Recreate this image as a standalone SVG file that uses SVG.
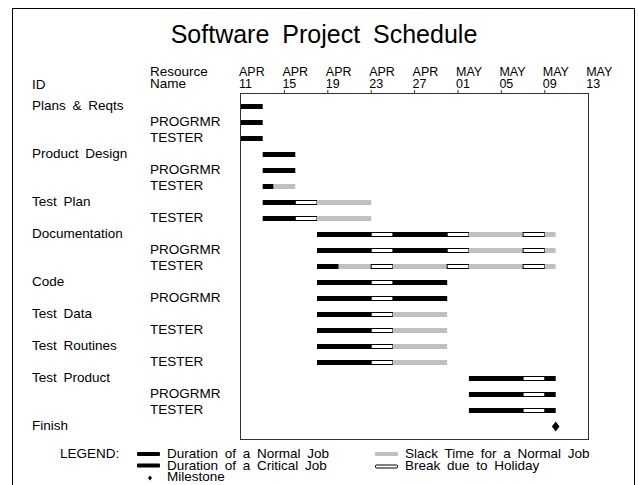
<svg xmlns="http://www.w3.org/2000/svg" width="638" height="485" viewBox="0 0 638 485">
  <style>
    .t { font-family: "Liberation Sans", Arial, sans-serif; font-size: 13.5px; fill: #000; }
    .ax { font-family: "Liberation Sans", Arial, sans-serif; font-size: 12.5px; fill: #000; }
    .ws { word-spacing: 3px; }
    .title { font-family: "Liberation Sans", Arial, sans-serif; font-size: 25px; word-spacing: 6px; fill: #000; }
    .crit { fill: #000; }
    .slack { fill: #c0c0c0; }
    .hol { fill: #fff; stroke: #000; stroke-width: 1; }
    .frame { fill: none; stroke: #000; stroke-width: 1; }
    .box { fill: none; stroke: #333; stroke-width: 1; }
  </style>

  <rect width="638" height="485" fill="#fff"/>
  <rect class="frame" x="12.5" y="8.5" width="622" height="490"/>

  <text class="title" x="324" y="43" text-anchor="middle">Software Project Schedule</text>

  <!-- column headings -->
  <text class="t" x="32" y="89">ID</text>
  <text class="t" x="150" y="76">Resource</text>
  <text class="t" x="150" y="88">Name</text>

  <!-- time axis: day d maps to x = 241 + 10.85 * d -->
  <g id="axis">
    <rect class="box" x="240.5" y="93.5" width="348" height="346"/>
    <g stroke="#333" stroke-width="1">
      <line x1="284.4" y1="90" x2="284.4" y2="93.5"/>
      <line x1="327.8" y1="90" x2="327.8" y2="93.5"/>
      <line x1="371.2" y1="90" x2="371.2" y2="93.5"/>
      <line x1="414.6" y1="90" x2="414.6" y2="93.5"/>
      <line x1="458" y1="90" x2="458" y2="93.5"/>
      <line x1="501.4" y1="90" x2="501.4" y2="93.5"/>
      <line x1="544.8" y1="90" x2="544.8" y2="93.5"/>
    </g>
    <text class="ax" x="239" y="76">APR</text><text class="ax" x="239" y="88">11</text>
    <text class="ax" x="282.4" y="76">APR</text><text class="ax" x="282.4" y="88">15</text>
    <text class="ax" x="325.8" y="76">APR</text><text class="ax" x="325.8" y="88">19</text>
    <text class="ax" x="369.2" y="76">APR</text><text class="ax" x="369.2" y="88">23</text>
    <text class="ax" x="412.6" y="76">APR</text><text class="ax" x="412.6" y="88">27</text>
    <text class="ax" x="456" y="76">MAY</text><text class="ax" x="456" y="88">01</text>
    <text class="ax" x="499.4" y="76">MAY</text><text class="ax" x="499.4" y="88">05</text>
    <text class="ax" x="542.8" y="76">MAY</text><text class="ax" x="542.8" y="88">09</text>
    <text class="ax" x="586.2" y="76">MAY</text><text class="ax" x="586.2" y="88">13</text>
  </g>

  <!-- Plans & Reqts -->
  <g id="plans-reqts">
    <text class="t ws" x="32" y="110">Plans &amp; Reqts</text>
    <text class="t" x="150" y="126">PROGRMR</text>
    <text class="t" x="150" y="142">TESTER</text>
    <rect class="crit" x="241" y="104" width="21.7" height="5"/>
    <rect class="crit" x="241" y="120" width="21.7" height="5"/>
    <rect class="crit" x="241" y="136" width="21.7" height="5"/>
  </g>

  <!-- Product Design -->
  <g id="product-design">
    <text class="t ws" x="32" y="158">Product Design</text>
    <text class="t" x="150" y="174">PROGRMR</text>
    <text class="t" x="150" y="190">TESTER</text>
    <rect class="crit" x="262.7" y="152" width="32.6" height="5"/>
    <rect class="crit" x="262.7" y="168" width="32.6" height="5"/>
    <rect class="crit" x="262.7" y="184" width="10.9" height="5"/>
    <rect class="slack" x="273.6" y="184" width="21.7" height="5"/>
  </g>

  <!-- Test Plan -->
  <g id="test-plan">
    <text class="t ws" x="32" y="206">Test Plan</text>
    <text class="t" x="150" y="222">TESTER</text>
    <rect class="crit" x="262.7" y="200" width="32.6" height="5"/>
    <rect class="hol" x="295.3" y="200.5" width="21.7" height="4"/>
    <rect class="slack" x="317" y="200" width="54.2" height="5"/>
    <rect class="crit" x="262.7" y="216" width="32.6" height="5"/>
    <rect class="hol" x="295.3" y="216.5" width="21.7" height="4"/>
    <rect class="slack" x="317" y="216" width="54.2" height="5"/>
  </g>

  <!-- Documentation -->
  <g id="documentation">
    <text class="t" x="32" y="238">Documentation</text>
    <text class="t" x="150" y="254">PROGRMR</text>
    <text class="t" x="150" y="270">TESTER</text>
    <rect class="crit" x="317" y="232" width="54.2" height="5"/>
    <rect class="hol" x="371.2" y="232.5" width="21.7" height="4"/>
    <rect class="crit" x="392.9" y="232" width="54.3" height="5"/>
    <rect class="hol" x="447.2" y="232.5" width="21.7" height="4"/>
    <rect class="slack" x="468.9" y="232" width="54.2" height="5"/>
    <rect class="hol" x="523.1" y="232.5" width="21.7" height="4"/>
    <rect class="slack" x="544.8" y="232" width="10.9" height="5"/>

    <rect class="crit" x="317" y="248" width="54.2" height="5"/>
    <rect class="hol" x="371.2" y="248.5" width="21.7" height="4"/>
    <rect class="crit" x="392.9" y="248" width="54.3" height="5"/>
    <rect class="hol" x="447.2" y="248.5" width="21.7" height="4"/>
    <rect class="slack" x="468.9" y="248" width="54.2" height="5"/>
    <rect class="hol" x="523.1" y="248.5" width="21.7" height="4"/>
    <rect class="slack" x="544.8" y="248" width="10.9" height="5"/>

    <rect class="crit" x="317" y="264" width="21.7" height="5"/>
    <rect class="slack" x="338.7" y="264" width="32.5" height="5"/>
    <rect class="hol" x="371.2" y="264.5" width="21.7" height="4"/>
    <rect class="slack" x="392.9" y="264" width="54.3" height="5"/>
    <rect class="hol" x="447.2" y="264.5" width="21.7" height="4"/>
    <rect class="slack" x="468.9" y="264" width="54.2" height="5"/>
    <rect class="hol" x="523.1" y="264.5" width="21.7" height="4"/>
    <rect class="slack" x="544.8" y="264" width="10.9" height="5"/>
  </g>

  <!-- Code -->
  <g id="code">
    <text class="t" x="32" y="286">Code</text>
    <text class="t" x="150" y="302">PROGRMR</text>
    <rect class="crit" x="317" y="280" width="54.2" height="5"/>
    <rect class="hol" x="371.2" y="280.5" width="21.7" height="4"/>
    <rect class="crit" x="392.9" y="280" width="54.3" height="5"/>
    <rect class="crit" x="317" y="296" width="54.2" height="5"/>
    <rect class="hol" x="371.2" y="296.5" width="21.7" height="4"/>
    <rect class="crit" x="392.9" y="296" width="54.3" height="5"/>
  </g>

  <!-- Test Data -->
  <g id="test-data">
    <text class="t ws" x="32" y="318">Test Data</text>
    <text class="t" x="150" y="334">TESTER</text>
    <rect class="crit" x="317" y="312" width="54.2" height="5"/>
    <rect class="hol" x="371.2" y="312.5" width="21.7" height="4"/>
    <rect class="slack" x="392.9" y="312" width="54.3" height="5"/>
    <rect class="crit" x="317" y="328" width="54.2" height="5"/>
    <rect class="hol" x="371.2" y="328.5" width="21.7" height="4"/>
    <rect class="slack" x="392.9" y="328" width="54.3" height="5"/>
  </g>

  <!-- Test Routines -->
  <g id="test-routines">
    <text class="t ws" x="32" y="350">Test Routines</text>
    <text class="t" x="150" y="366">TESTER</text>
    <rect class="crit" x="317" y="344" width="54.2" height="5"/>
    <rect class="hol" x="371.2" y="344.5" width="21.7" height="4"/>
    <rect class="slack" x="392.9" y="344" width="54.3" height="5"/>
    <rect class="crit" x="317" y="360" width="54.2" height="5"/>
    <rect class="hol" x="371.2" y="360.5" width="21.7" height="4"/>
    <rect class="slack" x="392.9" y="360" width="54.3" height="5"/>
  </g>

  <!-- Test Product -->
  <g id="test-product">
    <text class="t ws" x="32" y="382">Test Product</text>
    <text class="t" x="150" y="398">PROGRMR</text>
    <text class="t" x="150" y="414">TESTER</text>
    <rect class="crit" x="468.9" y="376" width="54.2" height="5"/>
    <rect class="hol" x="523.1" y="376.5" width="21.7" height="4"/>
    <rect class="crit" x="544.8" y="376" width="10.9" height="5"/>
    <rect class="crit" x="468.9" y="392" width="54.2" height="5"/>
    <rect class="hol" x="523.1" y="392.5" width="21.7" height="4"/>
    <rect class="crit" x="544.8" y="392" width="10.9" height="5"/>
    <rect class="crit" x="468.9" y="408" width="54.2" height="5"/>
    <rect class="hol" x="523.1" y="408.5" width="21.7" height="4"/>
    <rect class="crit" x="544.8" y="408" width="10.9" height="5"/>
  </g>

  <!-- Finish milestone -->
  <g id="finish">
    <text class="t" x="32" y="430">Finish</text>
    <polygon points="555.7,421.5 559.5,426.5 555.7,431.5 551.9,426.5" fill="#000"/>
  </g>

  <g id="connectors"/>

  <!-- legend -->
  <g id="legend">
    <text class="t" x="60" y="458">LEGEND:</text>
    <rect class="crit" x="137" y="452" width="23" height="4" rx="1"/>
    <text class="t ws" x="167" y="458">Duration of a Normal Job</text>
    <rect class="crit" x="137" y="463.5" width="23" height="4" rx="1"/>
    <text class="t ws" x="167" y="469.5">Duration of a Critical Job</text>
    <polygon points="150,475.5 152,478 150,480.5 148,478" fill="#000"/>
    <text class="t" x="167" y="481">Milestone</text>
    <rect class="slack" x="375" y="452" width="23" height="4" rx="1"/>
    <text class="t ws" x="405" y="458">Slack Time for a Normal Job</text>
    <rect class="hol" x="375.5" y="465" width="22" height="3" rx="1"/>
    <text class="t ws" x="405" y="469.5">Break due to Holiday</text>
  </g>
</svg>
